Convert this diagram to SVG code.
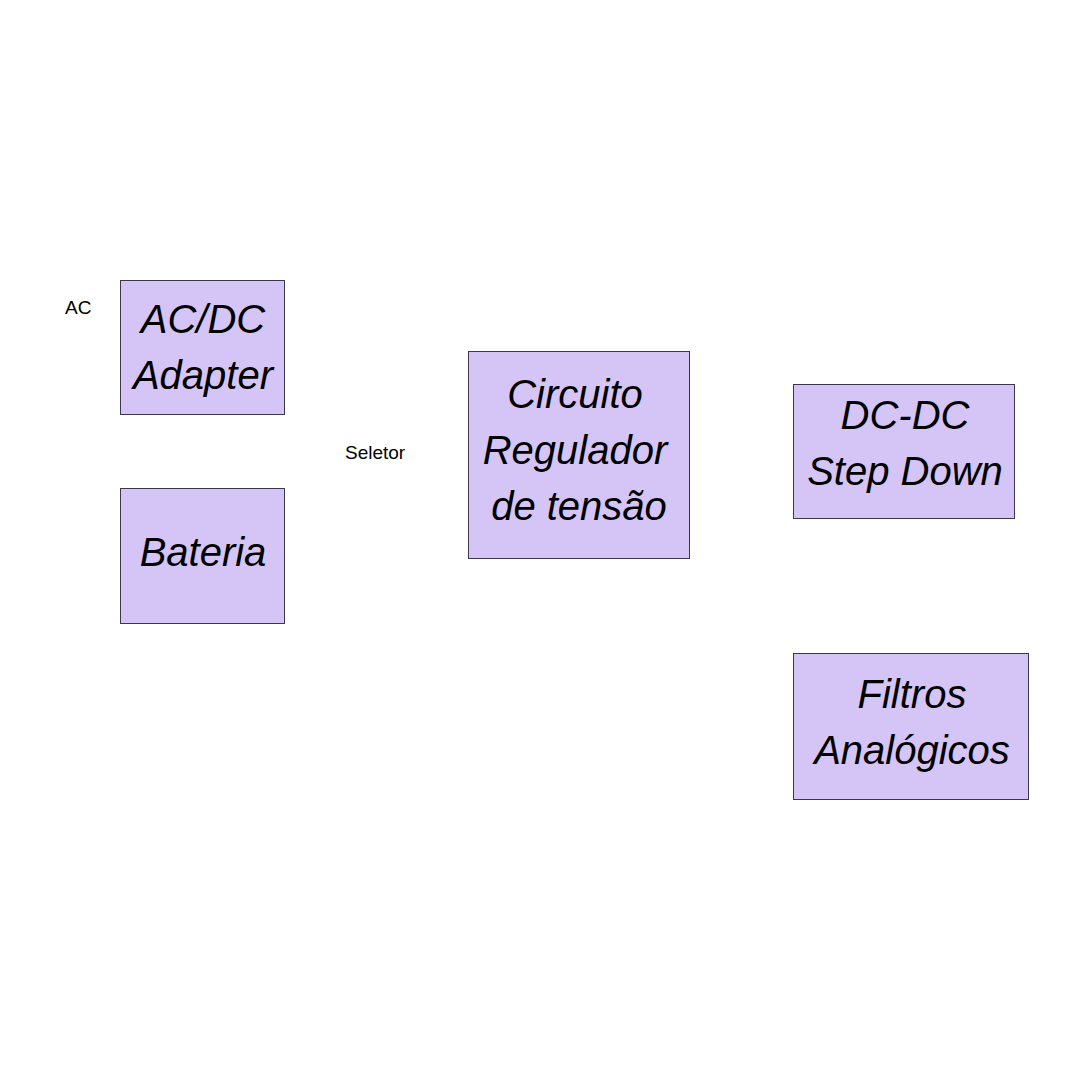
<svg xmlns="http://www.w3.org/2000/svg" width="1080" height="1080" viewBox="0 0 1080 1080">
<style>
.box{fill:#d5c5f7;stroke:#3a3850;stroke-width:1}
.t{font-family:"Liberation Sans",Arial,sans-serif;font-style:italic;font-size:40px;fill:#000;text-anchor:middle}
.lbl{font-family:"Liberation Sans",Arial,sans-serif;font-size:19px;fill:#000}
</style>
<rect width="1080" height="1080" fill="#fff"/>
<g id="label-ac"><text class="lbl" x="65" y="314">AC</text></g>
<g id="label-seletor"><text class="lbl" x="345" y="459">Seletor</text></g>
<g id="node-acdc">
<rect class="box" x="120.5" y="280.5" width="164" height="134"/>
<text class="t" x="203" y="333">AC/DC</text>
<text class="t" x="203" y="389">Adapter</text>
</g>
<g id="node-bateria">
<rect class="box" x="120.5" y="488.5" width="164" height="135"/>
<text class="t" x="203" y="566">Bateria</text>
</g>
<g id="node-regulador">
<rect class="box" x="468.5" y="351.5" width="221" height="207"/>
<text class="t" x="575" y="408">Circuito</text>
<text class="t" x="575" y="464">Regulador</text>
<text class="t" x="579" y="520">de tensão</text>
</g>
<g id="node-dcdc">
<rect class="box" x="793.5" y="384.5" width="221" height="134"/>
<text class="t" x="905" y="429">DC-DC</text>
<text class="t" x="905" y="485">Step Down</text>
</g>
<g id="node-filtros">
<rect class="box" x="793.5" y="653.5" width="235" height="146"/>
<text class="t" x="912" y="708">Filtros</text>
<text class="t" x="912" y="764">Analógicos</text>
</g>
<g id="connectors"></g>
</svg>
